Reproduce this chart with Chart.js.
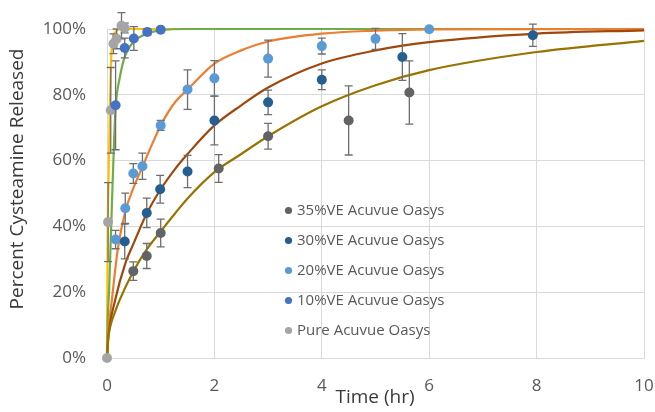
<!DOCTYPE html>
<html>
<head>
<meta charset="utf-8">
<script src="https://cdn.jsdelivr.net/npm/chart.js@4.4.1/dist/chart.umd.min.js"></script>
<style>
  html, body { margin: 0; padding: 0; background: #fff; }
  #wrap { width: 655px; height: 412px; }
</style>
</head>
<body>
<div id="wrap"><canvas id="release"></canvas></div>
<script>
// measured release (% of loaded cysteamine), with error bar half-widths
const hours35 = [0.49, 0.74, 1.0, 2.08, 3.0, 4.5, 5.63];
const release35 = [26.4, 31.0, 38.0, 57.6, 67.4, 72.2, 80.7];
const error35 = [2.8, 3.8, 4.2, 4.2, 3.9, 10.5, 9.6];

const hours30 = [0.33, 0.74, 0.99, 1.5, 2.0, 3.0, 4.0, 5.5, 7.93];
const release30 = [35.4, 44.1, 51.3, 56.7, 72.2, 77.7, 84.6, 91.5, 98.1];
const error30 = [5.3, 4.5, 4.2, 4.9, 7.4, 3.7, 3.0, 7.1, 3.4];

const hours20 = [0.16, 0.34, 0.49, 0.66, 1.0, 1.5, 2.0, 3.0, 4.0, 5.0, 6.0];
const release20 = [36.0, 45.5, 56.1, 58.3, 70.7, 81.6, 85.0, 91.0, 94.8, 97.0, 99.9];
const error20 = [2.8, 4.6, 3.0, 4.0, 1.5, 6.0, 5.4, 5.6, 2.4, 3.2, 0.5];

const hours10 = [0.16, 0.33, 0.5, 0.75, 1.0];
const release10 = [76.8, 94.2, 97.1, 99.1, 99.8];
const error10 = [13.5, 3.0, 3.6, 1.0, 0.5];

const hoursPure = [0, 0.02, 0.07, 0.12, 0.18, 0.27, 0.33];
const releasePure = [0, 41.3, 75.3, 95.5, 97.0, 101.0, 100.3];
const errorPure = [0, 12, 13, 3, 3, 4, 1.5];

// model fit curves
const fitHours35 = [0, 0.02, 0.06, 0.15, 0.24, 0.49, 0.74, 1.0, 1.27, 1.5, 2.0, 2.5, 3.0, 4.0, 5.0, 6.0, 8.0, 10.0];
const fitRelease35 = [0, 5.5, 9.5, 14, 17.8, 26.3, 33, 38.5, 44, 48.5, 56.5, 62, 67.4, 76.5, 82.9, 87.5, 93, 96.4];

const fitHours30 = [0, 0.03, 0.15, 0.34, 0.5, 0.74, 1.0, 1.27, 1.5, 2.0, 2.5, 3.0, 4.0, 5.0, 6.0, 8.0, 10.0];
const fitRelease30 = [0, 7, 17.5, 28.7, 35, 43.9, 51.3, 57.5, 62, 70.7, 76.8, 82.2, 89.5, 93.5, 96, 98.6, 99.6];

const fitHours20 = [0, 0.02, 0.09, 0.2, 0.34, 0.5, 0.67, 0.8, 1.0, 1.27, 1.5, 2.0, 2.5, 3.0, 4.0, 5.0, 6.0, 10.0];
const fitRelease20 = [0, 7, 17.5, 33, 44.5, 52, 58.5, 63.5, 70.7, 77.8, 81.6, 89.5, 93.5, 96.2, 98.6, 99.5, 99.9, 100];

const fitHours10 = [0, 0.015, 0.04, 0.07, 0.1, 0.13, 0.16, 0.24, 0.34, 0.49, 0.74, 1.0, 1.5, 10.0];
const fitRelease10 = [0, 12, 21, 36, 51, 65, 76, 85.4, 92, 96, 98.6, 99.6, 100, 100];

const fitHoursPure = [0, 0.004, 0.013, 0.024, 0.056, 0.088, 0.15, 0.27, 10.0];
const fitReleasePure = [0, 15, 40, 50, 78, 94.5, 99, 100, 100];

const seriesNames = ['35%VE Acuvue Oasys', '30%VE Acuvue Oasys', '20%VE Acuvue Oasys', '10%VE Acuvue Oasys', 'Pure Acuvue Oasys'];
const xTicks = [0, 2, 4, 6, 8, 10];
const yTicks = [0, 20, 40, 60, 80, 100];

const pointColors = ['#636363', '#255E91', '#5B9BD5', '#4472C4', '#A5A5A5'];
const fitColors = ['#997300', '#9E480E', '#ED7D31', '#70AD47', '#FFC000'];

const toXY = (xs, ys) => xs.map((x, i) => ({ x: x, y: ys[i] }));

const measured = [
  [hours35, release35, error35],
  [hours30, release30, error30],
  [hours20, release20, error20],
  [hours10, release10, error10],
  [hoursPure, releasePure, errorPure]
];
const fits = [
  [fitHours35, fitRelease35],
  [fitHours30, fitRelease30],
  [fitHours20, fitRelease20],
  [fitHours10, fitRelease10],
  [fitHoursPure, fitReleasePure]
];

const datasets = [];
measured.forEach(([xs, ys, errs], i) => {
  datasets.push({
    label: seriesNames[i],
    data: toXY(xs, ys),
    errorBars: errs,
    backgroundColor: pointColors[i],
    borderColor: pointColors[i],
    borderWidth: 0,
    pointRadius: 5,
    showLine: false,
    clip: false,
    order: 1
  });
});
fits.forEach(([xs, ys], i) => {
  datasets.push({
    label: seriesNames[i] + ' fit',
    data: toXY(xs, ys),
    borderColor: fitColors[i],
    borderWidth: 2.2,
    pointRadius: 0,
    showLine: true,
    cubicInterpolationMode: 'monotone',
    clip: false,
    order: 2
  });
});

// vertical error bars with caps, drawn just before each point series
const errorBarPlugin = {
  id: 'errorBars',
  beforeDatasetDraw(chart, args) {
    const ds = chart.data.datasets[args.index];
    if (!ds.errorBars) return;
    const { ctx, scales: { x, y } } = chart;
    ctx.save();
    ctx.strokeStyle = '#6E6E6E';
    ctx.lineWidth = 1.3;
    ds.data.forEach((p, i) => {
      const e = ds.errorBars[i];
      if (!e) return;
      const px = x.getPixelForValue(p.x);
      const top = y.getPixelForValue(p.y + e);
      const bot = y.getPixelForValue(p.y - e);
      ctx.beginPath();
      ctx.moveTo(px, top); ctx.lineTo(px, bot);
      ctx.moveTo(px - 4, top); ctx.lineTo(px + 4, top);
      ctx.moveTo(px - 4, bot); ctx.lineTo(px + 4, bot);
      ctx.stroke();
    });
    ctx.restore();
  }
};

// legend for the measured series, sitting inside the plot
const insideLegend = {
  id: 'insideLegend',
  afterDraw(chart) {
    const ctx = chart.ctx;
    const items = chart.data.datasets.filter(d => !d.showLine);
    ctx.save();
    ctx.font = '15px "Open Sans"';
    ctx.textBaseline = 'middle';
    items.forEach((d, i) => {
      const cy = 210.5 + i * 30;
      ctx.fillStyle = d.backgroundColor;
      ctx.beginPath();
      ctx.arc(288.5, cy, 3.6, 0, Math.PI * 2);
      ctx.fill();
      ctx.fillStyle = '#595959';
      ctx.fillText(d.label, 297, cy + 0.5);
    });
    ctx.restore();
  }
};

// axis titles placed freely, the x title tucked between the tick labels
const axisTitles = {
  id: 'axisTitles',
  afterDraw(chart) {
    const ctx = chart.ctx;
    ctx.save();
    ctx.fillStyle = '#3A3A3A';
    ctx.font = '19px "Open Sans"';
    ctx.textAlign = 'center';
    ctx.textBaseline = 'middle';
    ctx.fillText('Time (hr)', 375, 398);
    ctx.translate(18, 179);
    ctx.rotate(-Math.PI / 2);
    ctx.fillText('Percent Cysteamine Released', 0, 0);
    ctx.restore();
  }
};

new Chart(document.getElementById('release'), {
  type: 'scatter',
  data: { datasets: datasets },
  plugins: [errorBarPlugin, insideLegend, axisTitles],
  options: {
    responsive: true,
    maintainAspectRatio: false,
    animation: false,
    layout: { padding: { top: 29, right: 11, bottom: 0, left: 0 } },
    plugins: {
      legend: { display: false },
      tooltip: { enabled: false }
    },
    scales: {
      x: {
        type: 'linear',
        min: 0,
        max: 10,
        afterFit: (s) => { s.height = 54; s.paddingRight = 0; s.paddingLeft = 0; },
        afterBuildTicks: (s) => { s.ticks = xTicks.map(v => ({ value: v })); },
        ticks: { color: '#595959', font: { family: 'Open Sans', size: 17 }, padding: 18 },
        grid: { color: '#D9D9D9', lineWidth: 1, drawTicks: false },
        border: { color: '#D9D9D9' }
      },
      y: {
        min: 0,
        max: 100,
        afterFit: (s) => { s.width = 107; s.paddingTop = 0; s.paddingBottom = 0; },
        afterBuildTicks: (s) => { s.ticks = yTicks.map(v => ({ value: v })); },
        ticks: {
          color: '#595959',
          font: { family: 'Open Sans', size: 17 },
          padding: 21,
          callback: (v) => v + '%'
        },
        grid: { color: '#D9D9D9', lineWidth: 1, drawTicks: false },
        border: { color: '#D9D9D9' }
      }
    }
  }
});
</script>
</body>
</html>
